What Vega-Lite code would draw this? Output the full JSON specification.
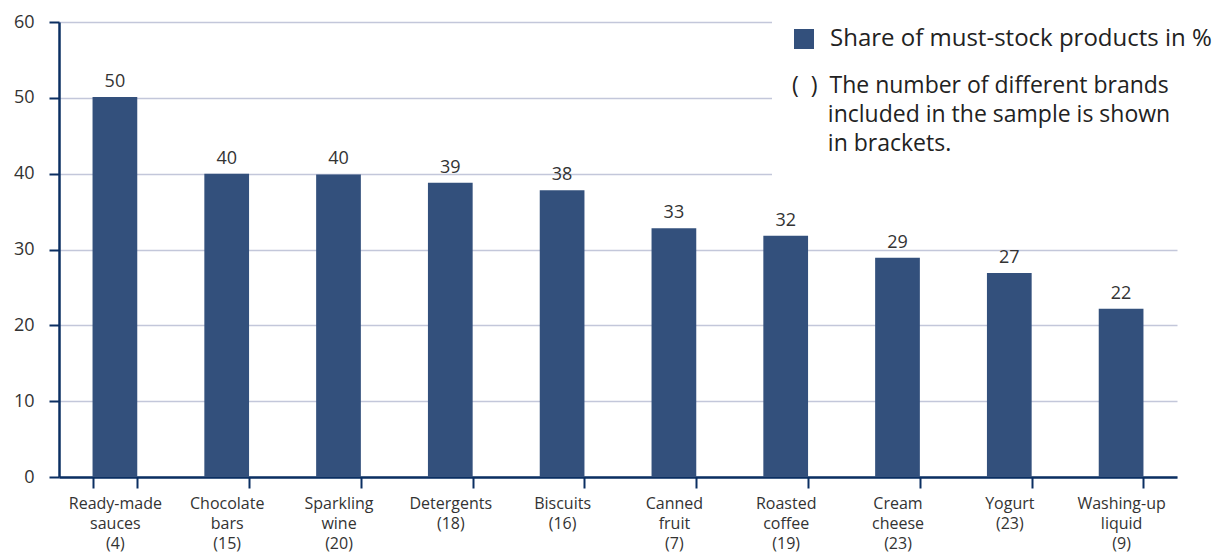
{
  "$schema": "https://vega.github.io/schema/vega-lite/v6.json",
  "width": 1118,
  "height": 455,
  "autosize": {"type": "none"},
  "padding": {"left": 59, "top": 22, "right": 40, "bottom": 76},
  "background": "white",
  "config": {
    "view": {"stroke": null},
    "font": "Open Sans"
  },
  "data": {
    "values": [
      {"cat": "Ready-made|sauces|(4)", "value": 50.1, "series": "Share of must-stock products in %"},
      {"cat": "Chocolate|bars|(15)", "value": 40.0, "series": "Share of must-stock products in %"},
      {"cat": "Sparkling|wine|(20)", "value": 39.9, "series": "Share of must-stock products in %"},
      {"cat": "Detergents|(18)", "value": 38.8, "series": "Share of must-stock products in %"},
      {"cat": "Biscuits|(16)", "value": 37.8, "series": "Share of must-stock products in %"},
      {"cat": "Canned|fruit|(7)", "value": 32.8, "series": "Share of must-stock products in %"},
      {"cat": "Roasted|coffee|(19)", "value": 31.8, "series": "Share of must-stock products in %"},
      {"cat": "Cream|cheese|(23)", "value": 28.9, "series": "Share of must-stock products in %"},
      {"cat": "Yogurt|(23)", "value": 26.9, "series": "Share of must-stock products in %"},
      {"cat": "Washing-up|liquid|(9)", "value": 22.2, "series": "Share of must-stock products in %"}
    ]
  },
  "encoding": {
    "x": {
      "field": "cat",
      "type": "nominal",
      "sort": null,
      "scale": {"paddingInner": 0.6, "paddingOuter": 0.3},
      "axis": {
        "title": null,
        "labelAngle": 0,
        "labelExpr": "split(datum.label, '|')",
        "labelFontSize": 16,
        "labelColor": "#333333",
        "labelLineHeight": 20,
        "labelPadding": 7,
        "labelBaseline": "top",
        "tickBand": "extent",
        "tickSize": 11,
        "tickWidth": 2,
        "tickColor": "#0b2f62",
        "domainColor": "#0b2f62",
        "domainWidth": 2.5
      }
    },
    "y": {
      "field": "value",
      "type": "quantitative",
      "scale": {"domain": [0, 60], "nice": false},
      "axis": {
        "title": null,
        "values": [0, 10, 20, 30, 40, 50, 60],
        "labelFontSize": 18,
        "labelColor": "#333333",
        "labelPadding": 15,
        "tickSize": 10,
        "tickWidth": 2,
        "tickColor": "#0b2f62",
        "domainColor": "#0b2f62",
        "domainWidth": 2.5,
        "grid": true,
        "gridColor": "#c3c7da",
        "gridWidth": 1.5
      }
    }
  },
  "layer": [
    {
      "mark": {"type": "bar"},
      "encoding": {
        "color": {
          "field": "series",
          "type": "nominal",
          "scale": {"range": ["#33507c"]},
          "legend": {
            "orient": "none",
            "legendX": 713,
            "legendY": -15,
            "padding": 20,
            "fillColor": "white",
            "strokeColor": null,
            "symbolType": "square",
            "symbolSize": 400,
            "symbolStrokeWidth": 0,
            "labelFontSize": 24,
            "labelColor": "#222222",
            "labelOffset": 14,
            "title": ["(\u00a0\u00a0)\u00a0\u00a0The number of different brands", "\u200b\u00a0\u00a0\u00a0\u00a0\u00a0\u00a0included in the sample is shown", "\u200b\u00a0\u00a0\u00a0\u00a0\u00a0\u00a0in brackets."],
            "titleOrient": "bottom",
            "titleAnchor": "start",
            "titleAlign": "left",
            "titleFontSize": 23,
            "titleFontWeight": "normal",
            "titleColor": "#222222",
            "titleLineHeight": 29,
            "titlePadding": 24,
            "titleLimit": 600,
            "labelLimit": 600
          }
        }
      }
    },
    {
      "mark": {"type": "text", "baseline": "bottom", "dy": -6, "fontSize": 18, "color": "#333333"},
      "encoding": {
        "text": {"field": "value", "type": "quantitative", "format": ".0f"}
      }
    }
  ]
}
